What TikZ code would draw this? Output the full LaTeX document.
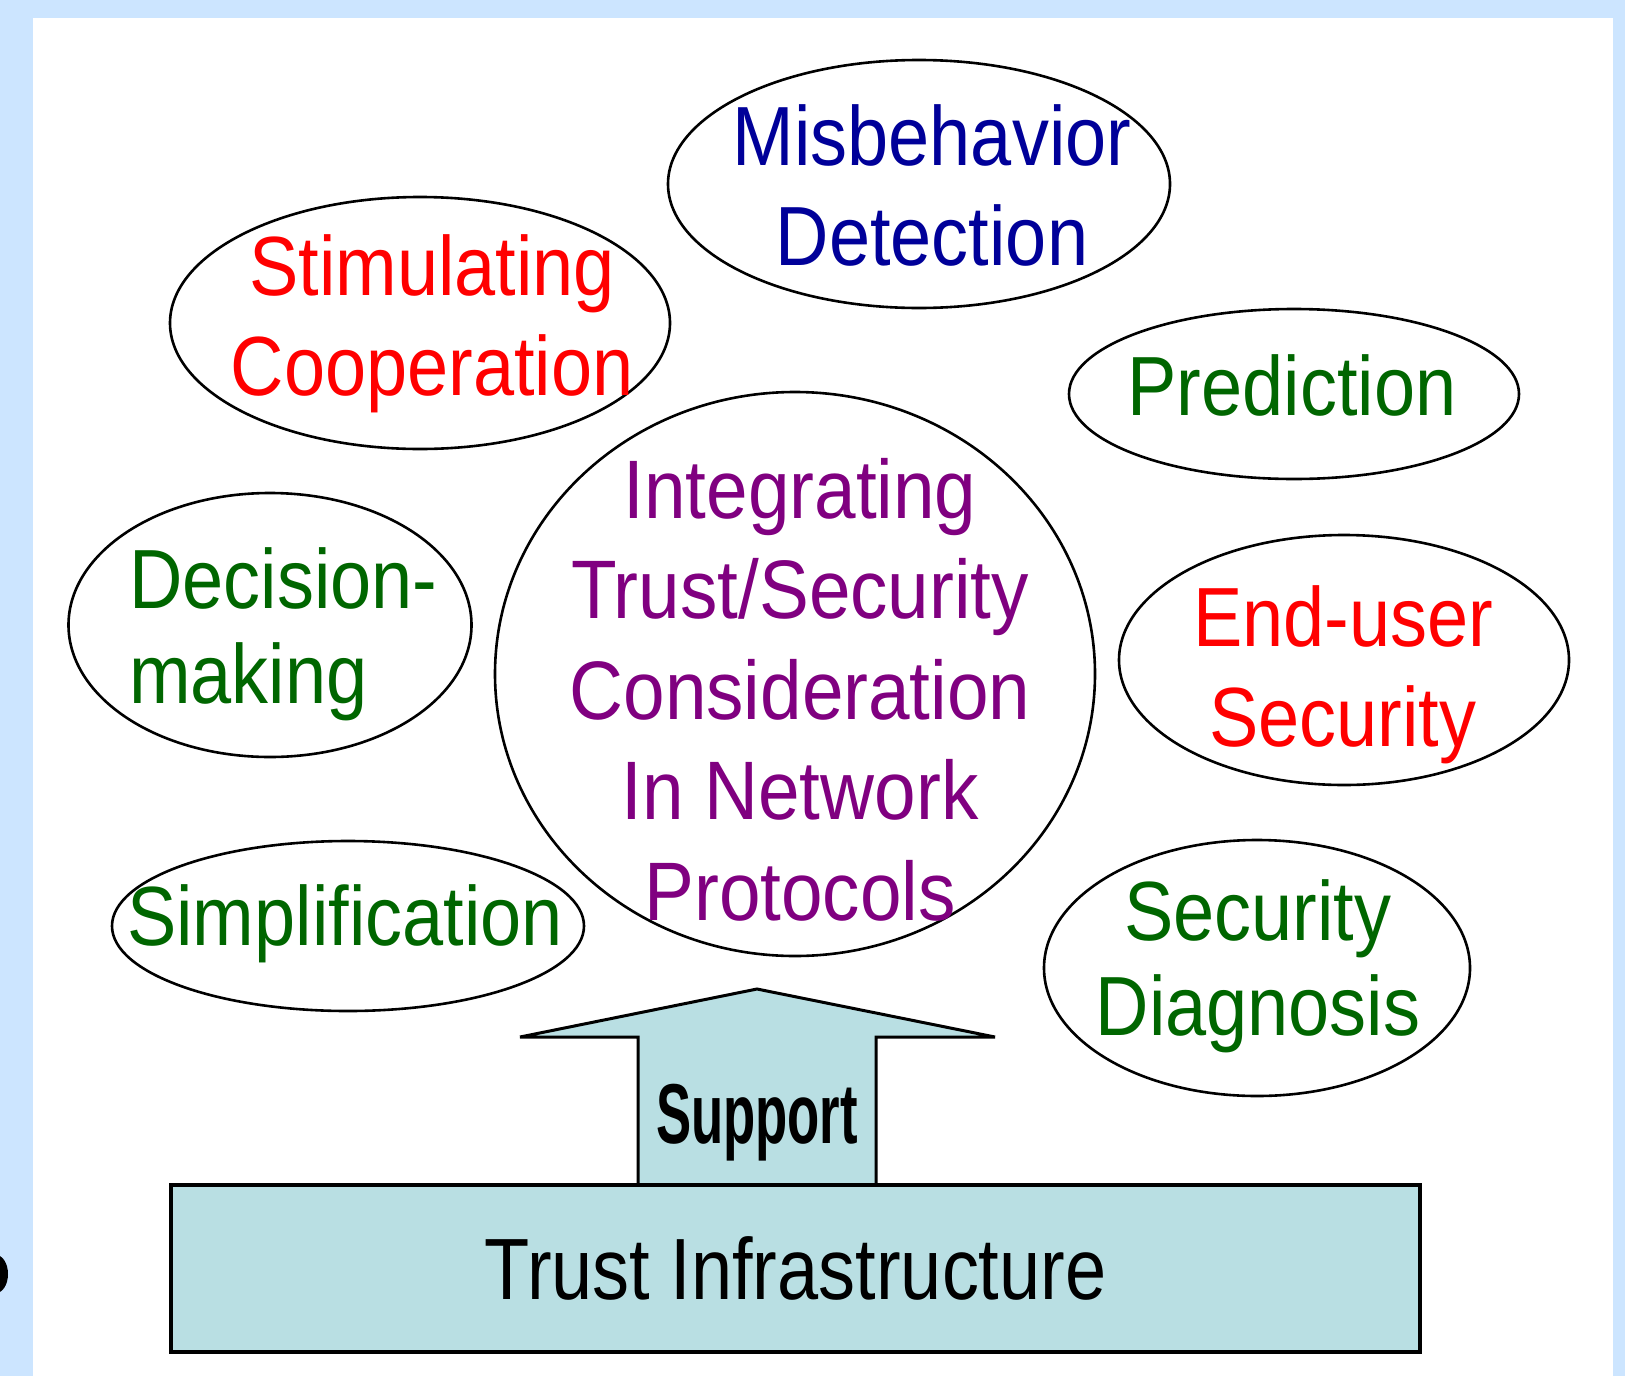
\documentclass[tikz,border=0pt]{standalone}
\usepackage{fontspec}
\usetikzlibrary{shapes.geometric}
\newfontfamily\ovalfont{Liberation Sans}[FakeStretch=0.88]
\newfontfamily\hubfont{Liberation Sans}[FakeStretch=0.9]
\newfontfamily\infrafont{Liberation Sans}[FakeStretch=0.85]
\newfontfamily\supportfont{Liberation Sans}[FakeStretch=0.62]
\definecolor{frameblue}{HTML}{CCE5FF}
\definecolor{misbblue}{HTML}{000099}
\definecolor{stimred}{HTML}{FF0000}
\definecolor{leafgreen}{HTML}{006600}
\definecolor{hubpurple}{HTML}{800080}
\definecolor{infrafill}{HTML}{B9DFE3}
\tikzset{
  oval/.style={ellipse, draw=black, line width=2.6pt, inner sep=0pt},
  lab/.style={inner sep=0pt, anchor=base, align=center,
    font=\ovalfont\fontsize{84}{100}\selectfont},
  tightlab/.style={lab, font=\ovalfont\fontsize{84}{95}\selectfont},
  hublab/.style={lab, font=\hubfont\fontsize{83}{100.5}\selectfont},
  infra/.style={draw=black, line width=4pt, fill=infrafill, inner sep=0pt,
    font=\infrafont\fontsize{87}{100}\selectfont},
  arrowbody/.style={draw=black, line width=3pt, fill=infrafill, line join=miter},
}

\begin{document}
\begin{tikzpicture}[x=1pt,y=-1pt]
  \useasboundingbox (0,0) rectangle (1625,1376);
  \fill[frameblue] (0,0) rectangle (1625,1376);
  \fill[white] (33,18) rectangle (1613,1376);
  \fill[black] (-4,1274) ellipse (12 and 19); % cut-off glyph at the edge

  % ovals
  \node[oval, minimum width=502pt, minimum height=248pt] (misb) at (919,184) {};
  \node[oval, minimum width=500pt, minimum height=252pt] (stim) at (420,323) {};
  \node[oval, minimum width=450pt, minimum height=170pt] (pred) at (1294,394) {};
  \node[oval, minimum width=403pt, minimum height=264pt] (deci) at (270,625) {};
  \node[oval, minimum width=600pt, minimum height=564pt] (hub) at (795,674) {};
  \node[oval, minimum width=450pt, minimum height=250pt] (endu) at (1344,660) {};
  \node[oval, minimum width=472pt, minimum height=170pt] (simp) at (348,926) {};
  \node[oval, minimum width=426pt, minimum height=256pt] (diag) at (1257,968) {};

  % labels, placed on the baseline of their last line
  \node[lab, text=misbblue] (misbtxt) at (932,265) {Misbehavior\\Detection};
  \node[lab, text=stimred] (stimtxt) at (432,395) {Stimulating\\Cooperation};
  \node[lab, text=leafgreen] (predtxt) at (1292,415) {Prediction};
  \node[tightlab, text=leafgreen, align=left, anchor=base west] (decitxt) at (129,703) {Decision-\\making};
  \node[hublab, text=hubpurple] (hubtxt) at (800,920)
    {Integrating\\Trust/Security\\Consideration\\In Network\\Protocols};
  \node[lab, text=stimred] (endutxt) at (1343,746) {End-user\\Security};
  \node[lab, text=leafgreen] (simptxt) at (345,945) {Simplification};
  \node[tightlab, text=leafgreen] (diagtxt) at (1258,1035) {Security\\Diagnosis};

  % support arrow and base
  \coordinate (tip) at (757,989);
  \coordinate (shaftl) at (638,1185);
  \coordinate (shaftr) at (876,1185);
  \draw[arrowbody] (shaftl) -- (638,1037) -- (520,1037) -- (tip)
    -- (995,1037) -- (876,1037) -- (shaftr) -- cycle;
  \node[inner sep=0pt, anchor=base, font=\supportfont\bfseries\fontsize{85}{100}\selectfont]
    (support) at (757,1143) {Support};
  \node[infra, minimum width=1249pt, minimum height=167pt] (base) at (795.5,1268.5)
    {Trust Infrastructure};
\end{tikzpicture}
\end{document}
